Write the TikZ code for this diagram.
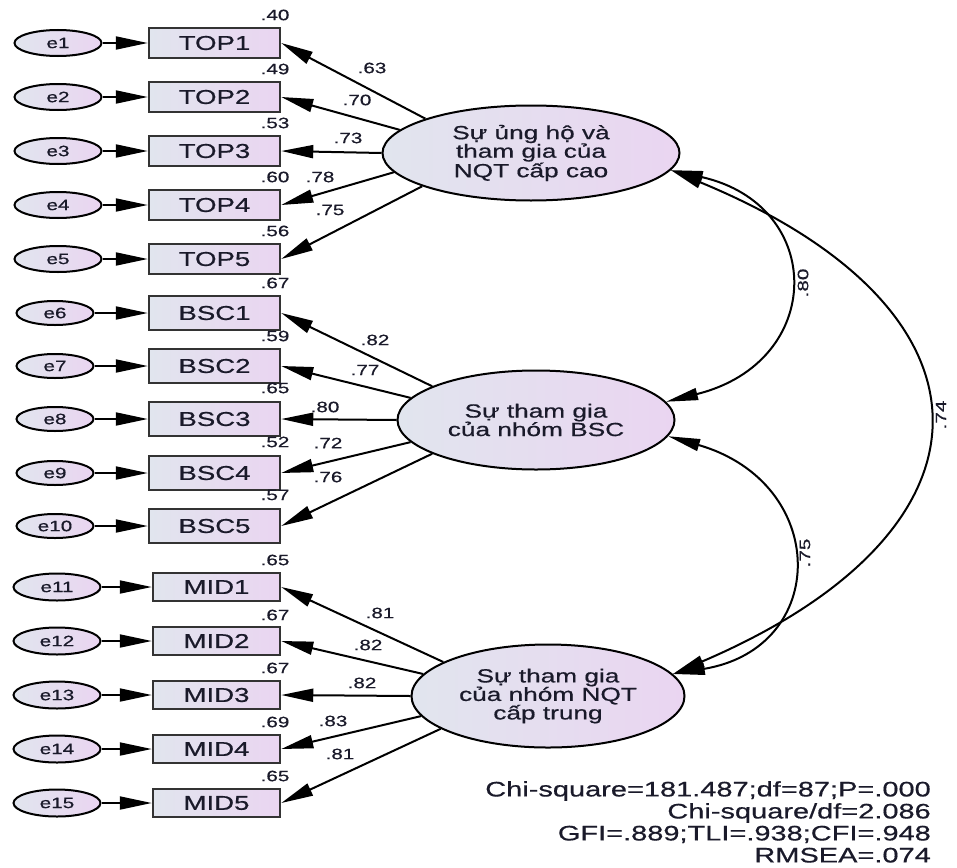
\documentclass[tikz,border=0pt]{standalone}
\usepackage{fontspec}
\setmainfont{Liberation Sans}
\newfontfamily\amos[FakeStretch=1.38,FakeBold=0.6]{Liberation Sans}
\usetikzlibrary{arrows.meta,shapes.geometric}
\definecolor{fillL}{HTML}{E1E5EE}
\definecolor{fillR}{HTML}{EAD5F1}
\definecolor{bord}{HTML}{333333}
\definecolor{txt}{HTML}{1A1A2A}
\tikzset{
  obs/.style={draw=bord, line width=2.5pt, rectangle, minimum width=131pt, minimum height=30pt, inner sep=0pt, left color=fillL, right color=fillR, text=txt, font=\amos\fontsize{20}{22}\selectfont},
  err/.style={draw=black, line width=2pt, ellipse, minimum width=87pt, minimum height=26pt, inner sep=0pt, left color=fillL, right color=fillR, text=txt, font=\amos\fontsize{15}{16}\selectfont},
  lat/.style={draw=black, line width=2pt, ellipse, inner sep=0pt, left color=fillL, right color=fillR, align=center, text=txt, font=\amos\fontsize{19}{18.5}\selectfont},
  lbl/.style={font=\amos\fontsize{15}{16}\selectfont, inner sep=0pt, text=txt},
  arr/.style={line width=2pt, -{Triangle[length=32pt,width=13pt]}},
  cov/.style={line width=2pt, {Triangle[length=32pt,width=12pt]}-{Triangle[length=32pt,width=12pt]}},
}
\begin{document}
\begin{tikzpicture}[x=1pt,y=-1pt]
\useasboundingbox (0,0) rectangle (957,867);
% latent variables
\node[lat, minimum width=297pt, minimum height=95pt] (F1) at (531,153) {Sự ủng hộ và\\tham gia của\\NQT cấp cao};
\node[lat, minimum width=277pt, minimum height=99pt] (F2) at (536,420) {Sự tham gia\\của nhóm BSC};
\node[lat, minimum width=273pt, minimum height=103pt] (F3) at (548,696) {Sự tham gia\\của nhóm NQT\\cấp trung};
% TOP group
\foreach \i/\y in {1/43,2/97,3/151,4/205,5/259}{
  \node[obs] (TOP\i) at (214.5,\y) {TOP\i};
  \node[err] (e\i) at (58,\y) {e\i};
  \draw[arr] (e\i.east) -- (TOP\i.west);
}
% BSC group
\foreach \i/\j/\y in {1/6/313,2/7/366,3/8/419,4/9/473,5/10/526}{
  \node[obs, minimum height=34pt] (BSC\i) at (214.5,\y) {BSC\i};
  \node[err, minimum width=77pt, minimum height=24pt] (e\j) at (55,\y) {e\j};
  \draw[arr] (e\j.east) -- (BSC\i.west);
}
% MID group
\foreach \i/\j/\y in {1/11/587,2/12/641,3/13/695,4/14/749,5/15/803}{
  \node[obs, minimum width=127pt, minimum height=28pt] (MID\i) at (216.5,\y) {MID\i};
  \node[err, minimum height=27pt] (e\j) at (57,\y) {e\j};
  \draw[arr] (e\j.east) -- (MID\i.west);
}
% loadings
\foreach \i/\a in {1/162,2/170,3/180,4/188,5/197}{
  \draw[arr] (F1.\a) -- (TOP\i.east);
}
\foreach \i/\a in {1/162,2/170,3/180,4/190,5/198}{
  \draw[arr] (F2.\a) -- (BSC\i.east);
}
\foreach \i/\a in {1/162,2/170,3/180,4/189,5/197}{
  \draw[arr] (F3.\a) -- (MID\i.east);
}
% covariances
\draw[cov] (F1.-7) .. controls (826,205) and (826,362) .. (F2.8);
\draw[cov] (F2.-7) .. controls (830,483) and (830,648) .. (F3.10);
\draw[cov] (F1.-7) .. controls (1010,310) and (1010,530) .. (F3.10);
\node[lbl, rotate=90] (c80) at (803,283) {.80};
\node[lbl, rotate=90] (c75) at (805,553) {.75};
\node[lbl, rotate=90] (c74) at (941,415) {.74};
% squared multiple correlations
\foreach \n/\v/\y in {r1/.40/15,r2/.49/69,r3/.53/123,r4/.60/177,r5/.56/231,
  r6/.67/283,r7/.59/336,r8/.65/388,r9/.52/442,r10/.57/495,
  r11/.65/560,r12/.67/615,r13/.67/668,r14/.69/722,r15/.65/776}{
  \node[lbl] (\n) at (275,\y) {\v};
}
% loading labels
\foreach \n/\v/\x/\y in {l1/.63/372/68,l2/.70/357/100,l3/.73/348/138,l4/.78/320/177,l5/.75/330/210,
  l6/.82/375/340,l7/.77/365/370,l8/.80/325/407,l9/.72/328/443,l10/.76/328/477,
  l11/.81/380/613,l12/.82/368/645,l13/.82/362/683,l14/.83/333/721,l15/.81/340/754}{
  \node[lbl] (\n) at (\x,\y) {\v};
}
% fit statistics
\node[inner sep=0pt, anchor=north east, align=right, text=txt, font=\amos\fontsize{21}{22}\selectfont] (fit) at (931,781)
  {Chi-square=181.487;df=87;P=.000\\Chi-square/df=2.086\\GFI=.889;TLI=.938;CFI=.948\\RMSEA=.074};
\end{tikzpicture}
\end{document}
